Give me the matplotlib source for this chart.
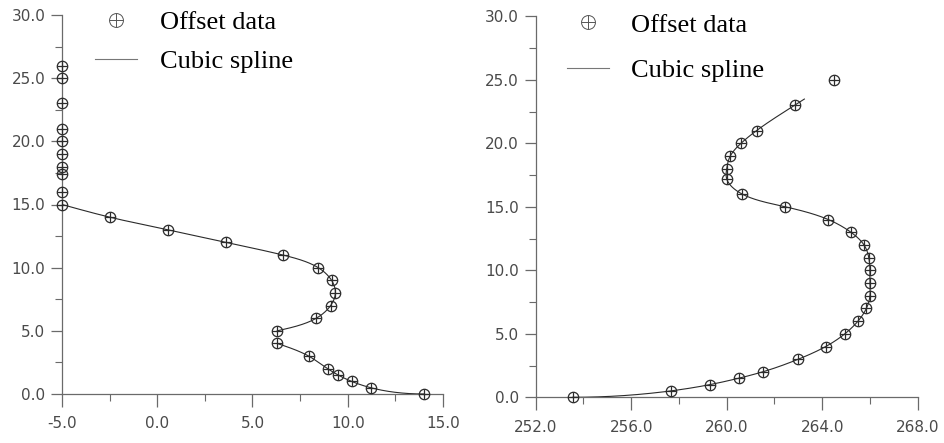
import numpy as np
import matplotlib.pyplot as plt
from matplotlib.lines import Line2D
from matplotlib.ticker import MultipleLocator, FormatStrFormatter

# left panel: offset (x) against depth (y)
left_y = [0, 0.5, 1, 1.5, 2, 3, 4, 5, 6, 7, 8, 9, 10, 11, 12, 13, 14, 15,
          16, 17.4, 18, 19, 20, 21, 23, 25, 26]
left_x = [14.0, 11.2, 10.2, 9.5, 8.95, 7.95, 6.3, 6.3, 8.35, 9.1, 9.35, 9.15,
          8.45, 6.6, 3.6, 0.55, -2.5, -5.0, -5.0, -5.0, -5.0, -5.0, -5.0,
          -5.0, -5.0, -5.0, -5.0]
# the spline in the left panel is drawn in two pieces (break between 4 and 5)
left_pieces = [(0, 7), (7, 18)]

# right panel
right_y = [0, 0.5, 1, 1.5, 2, 3, 4, 5, 6, 7, 8, 9, 10, 11, 12, 13, 14, 15,
           16, 17.2, 18, 19, 20, 21, 23, 25]
right_x = [253.55, 257.65, 259.3, 260.5, 261.5, 263.0, 264.15, 264.95, 265.5,
           265.85, 266.0, 266.0, 266.0, 265.95, 265.75, 265.2, 264.25, 262.45,
           260.65, 260.0, 260.0, 260.15, 260.6, 261.25, 262.85, 264.5]
right_y_end = 23.5        # drawn spline stops here

INK = '#2b2b2b'
AXC = '#6a6a6a'
TXT = '#4a4a4a'


def spline_1d(t, v, tt, d0=None):
    """Cubic spline v(t); natural ends, or clamped slope d0 at the start."""
    n = len(t)
    h = np.diff(t)
    A = np.zeros((n, n))
    r = np.zeros(n)
    if d0 is None:
        A[0, 0] = 1.0
    else:
        A[0, 0], A[0, 1] = 2 * h[0], h[0]
        r[0] = 6 * ((v[1] - v[0]) / h[0] - d0)
    A[-1, -1] = 1.0
    for i in range(1, n - 1):
        A[i, i - 1] = h[i - 1]
        A[i, i] = 2 * (h[i - 1] + h[i])
        A[i, i + 1] = h[i]
        r[i] = 6 * ((v[i + 1] - v[i]) / h[i] - (v[i] - v[i - 1]) / h[i - 1])
    m = np.linalg.solve(A, r)
    k = np.clip(np.searchsorted(t, tt) - 1, 0, n - 2)
    a = t[k + 1] - tt
    b = tt - t[k]
    hk = h[k]
    return (m[k] * a ** 3 / (6 * hk) + m[k + 1] * b ** 3 / (6 * hk)
            + (v[k] / hk - m[k] * hk / 6) * a
            + (v[k + 1] / hk - m[k + 1] * hk / 6) * b)


def curve(xs, ys, flat_start=False, n=600):
    """Parametric (chord length) cubic spline through the points."""
    xs = np.asarray(xs, float)
    ys = np.asarray(ys, float)
    t = np.concatenate([[0], np.cumsum(np.hypot(np.diff(xs), np.diff(ys)))])
    tt = np.linspace(t[0], t[-1], n)
    cx = spline_1d(t, xs, tt)
    cy = spline_1d(t, ys, tt, d0=0.0 if flat_start else None)
    return cx, cy


def style_axes(ax, xlim, xmajor, xminor):
    ax.set_xlim(*xlim)
    ax.set_ylim(0, 30)
    for s in ['top', 'right']:
        ax.spines[s].set_visible(False)
    for s in ['left', 'bottom']:
        ax.spines[s].set_color(AXC)
        ax.spines[s].set_linewidth(0.9)
    ax.xaxis.set_major_locator(MultipleLocator(xmajor))
    ax.xaxis.set_minor_locator(MultipleLocator(xminor))
    ax.yaxis.set_major_locator(MultipleLocator(5))
    ax.yaxis.set_minor_locator(MultipleLocator(2.5))
    ax.xaxis.set_major_formatter(FormatStrFormatter('%.1f'))
    ax.yaxis.set_major_formatter(FormatStrFormatter('%.1f'))
    ax.tick_params(which='major', direction='out', length=9, width=0.9,
                   color=AXC, labelcolor=TXT, labelsize=11)
    ax.tick_params(which='minor', direction='out', length=5, width=0.8,
                   color=AXC)
    ax.tick_params(axis='y', which='major', length=8, pad=4)
    ax.tick_params(axis='x', which='major', pad=7)
    for lab in ax.get_xticklabels() + ax.get_yticklabels():
        lab.set_fontfamily('DejaVu Sans')


def draw_points(ax, xs, ys):
    ax.plot(xs, ys, 'o', ms=7.5, mfc='none', mec=INK, mew=0.9, clip_on=False,
            zorder=4)
    ax.plot(xs, ys, '+', ms=7.5, mec=INK, mew=0.9, clip_on=False, zorder=4)


def add_legend(ax, anchor, spacing):
    circ = Line2D([], [], ls='none', marker='o', ms=10, mfc='none',
                  mec='#555555', mew=0.7)
    plus = Line2D([], [], ls='none', marker='+', ms=10, mec='#555555', mew=0.7)
    line = Line2D([], [], color='#777777', lw=0.8)
    leg = ax.legend([(circ, plus), line], ['Offset data', 'Cubic spline'],
                    loc='upper left', bbox_to_anchor=anchor, frameon=False,
                    prop={'family': 'Liberation Serif', 'size': 19},
                    handlelength=1.6, handletextpad=0.85, borderpad=0,
                    borderaxespad=0, labelspacing=spacing)
    leg.set_zorder(5)


fig = plt.figure(figsize=(9.45, 4.43), dpi=100)
ax1 = fig.add_axes([62 / 945, 49 / 443, 381 / 945, 379 / 443])
ax2 = fig.add_axes([535.7 / 945, 45.7 / 443, 382 / 945, 381 / 443])

# left panel
for i0, i1 in left_pieces:
    cx, cy = curve(left_x[i0:i1], left_y[i0:i1], flat_start=(i0 == 0))
    ax1.plot(cx, cy, color=INK, lw=0.8, zorder=3)
draw_points(ax1, left_x, left_y)
style_axes(ax1, (-5, 15), 5, 2.5)
add_legend(ax1, (0.087, 1.012), 0.6)

# right panel
cx, cy = curve(right_x, right_y, flat_start=True, n=1200)
keep = cy <= right_y_end
ax2.plot(cx[keep], cy[keep], color=INK, lw=0.8, zorder=3)
draw_points(ax2, right_x, right_y)
style_axes(ax2, (252, 268), 4, 2)
add_legend(ax2, (0.081, 1.008), 0.82)

fig.savefig('out.png', dpi=100)
